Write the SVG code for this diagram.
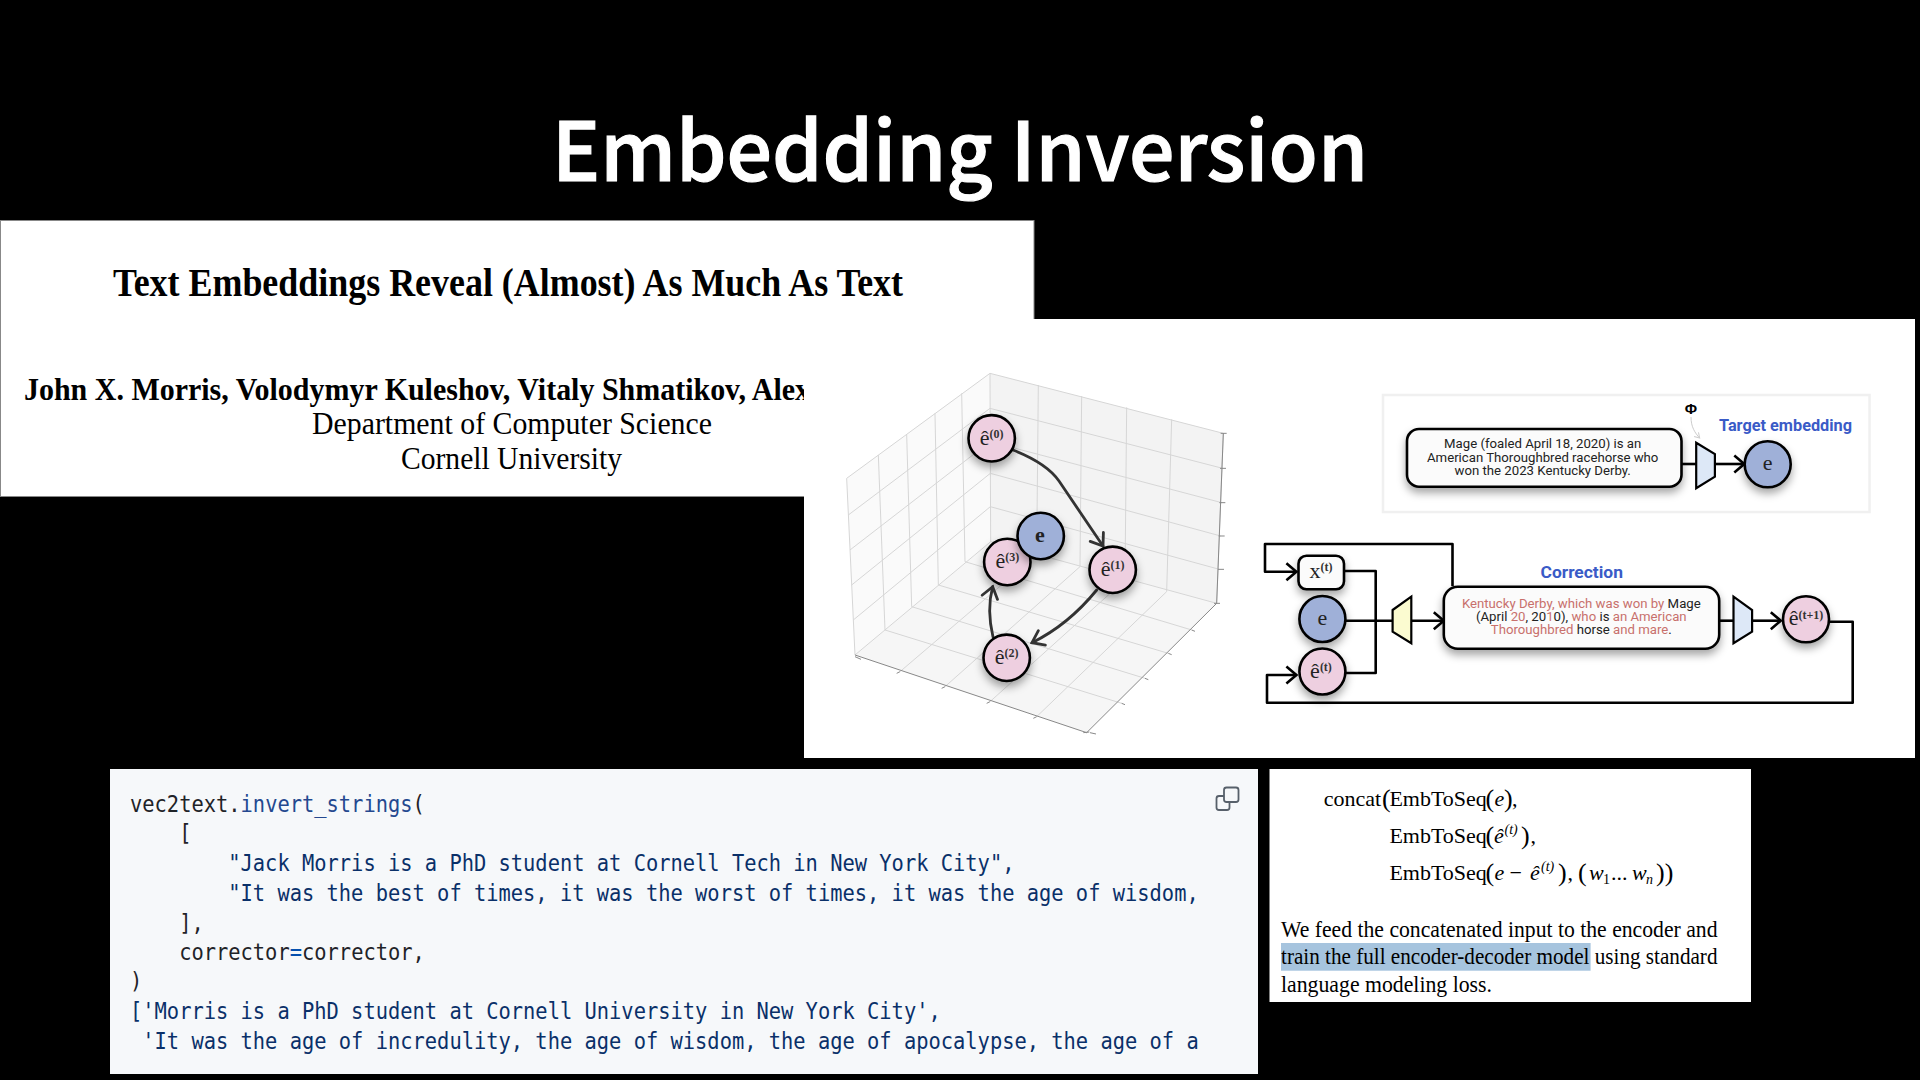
<svg xmlns="http://www.w3.org/2000/svg" width="1920" height="1080" viewBox="0 0 1920 1080">
<style>
.ser{font-family:"Liberation Serif","Times New Roman",serif;fill:#000}
.b{font-weight:700}
.code{font-family:"DejaVu Sans Mono","Liberation Mono",monospace;font-size:22.5px;fill:#1f2328;white-space:pre}
.str{fill:#0a3069}.fn{fill:#24488f}.op{fill:#0550ae}
.rob{font-family:Roboto,"Liberation Sans",sans-serif;font-size:13.2px;fill:#222;text-anchor:middle}
.red{fill:#c8706c}
.hd{font-family:Roboto,"Liberation Sans",sans-serif;font-weight:700;font-size:17px;fill:#3a5bc7}
.nl{font-family:"Liberation Serif",serif;fill:#222;text-anchor:middle;font-size:22px}
.sp{font-size:12px;font-weight:700;fill:#333}
.node{stroke:#000;stroke-width:2.6;filter:url(#sh)}
.pk{fill:#eecfe0}.bl{fill:#9fb0d8}
.box{fill:#fbfbfb;stroke:#000;stroke-width:2.6;filter:url(#sh)}
.trap{stroke:#000;stroke-width:2.2}
.w{fill:none;stroke:#000;stroke-width:2.6;stroke-linejoin:round}
.cv{fill:none;stroke:#333;stroke-width:2.8;stroke-linecap:round}
.grid{fill:none;stroke:#d6d6d6;stroke-width:3}
.tick{fill:none;stroke:#888;stroke-width:3}
.math{font-size:22px}
.it{font-style:italic}
.sup{font-size:14px;font-style:italic}
.par{font-size:26px}
</style>
<defs>
<filter id="sh" x="-40%" y="-40%" width="180%" height="200%"><feDropShadow dx="0" dy="5" stdDeviation="4" flood-color="#000" flood-opacity="0.35"/></filter>
<marker id="ah" markerUnits="userSpaceOnUse" markerWidth="24" markerHeight="24" refX="14" refY="12" orient="auto"><path d="M4,3.500 L14,12 L4,20.500" fill="none" stroke="#000" stroke-width="2.600"/></marker>
<marker id="ac" markerUnits="userSpaceOnUse" markerWidth="26" markerHeight="26" refX="15" refY="13" orient="auto"><path d="M4,5 L15,13 L4,21" fill="none" stroke="#333" stroke-width="2.800" stroke-linecap="round"/></marker>
<marker id="ag" markerUnits="userSpaceOnUse" markerWidth="10" markerHeight="10" refX="7" refY="5" orient="auto"><path d="M2,2 L7,5 L2,8" fill="none" stroke="#ccc" stroke-width="1"/></marker>
</defs>
<rect width="1920" height="1080" fill="#000"/>
<text id="title" x="960" y="181" text-anchor="middle" font-family="'Noto Sans CJK JP','Noto Sans',sans-serif" font-weight="500" font-size="82" fill="#fff" stroke="#fff" stroke-width="1.2" textLength="816" lengthAdjust="spacingAndGlyphs">Embedding Inversion</text>

<g id="paper-title">
<rect x="0.500" y="220.500" width="1033.500" height="276" fill="#fff" stroke="#888" stroke-width="1"/>
<text class="ser b" x="113" y="296" font-size="39" textLength="790" lengthAdjust="spacingAndGlyphs">Text Embeddings Reveal (Almost) As Much As Text</text>
<text class="ser b" x="24" y="399.500" font-size="32" textLength="786" lengthAdjust="spacingAndGlyphs">John X. Morris, Volodymyr Kuleshov, Vitaly Shmatikov, Alex</text>
<text class="ser" x="312" y="434" font-size="32" textLength="400" lengthAdjust="spacingAndGlyphs">Department of Computer Science</text>
<text class="ser" x="401" y="469" font-size="32" textLength="221" lengthAdjust="spacingAndGlyphs">Cornell University</text>
</g>

<rect id="figure-panel" x="804" y="319" width="1111" height="439" fill="#fff"/>
<g id="plot3d" transform="translate(800 320) scale(0.33333)">
<path d="M140,475 L570,160 L572,665 L165,1005Z" fill="#fafafa"/>
<path d="M570,160 L1270,340 L1250,850 L572,665Z" fill="#f3f3f3"/>
<path d="M165,1005 L572,665 L1250,850 L860,1238Z" fill="#f6f6f6"/>
<path class="grid" d="M140,475 L570,160 L1270,340 M570,160 L572,665 M140,475 L165,1005 M1270,340 L1250,850
M235,405 L255,930 M320,343 L335,860 M405,280 L415,795 M485,220 L495,725
M715,195 L710,705 M845,228 L840,740 M980,262 L975,780 M1115,298 L1100,815
M145,585 L570,265 M150,690 L570,365 M155,795 L571,460 M160,900 L571,560
M570,265 L1268,445 M570,365 L1265,548 M571,460 L1262,648 M571,560 L1258,748
M165,1005 L572,665 L1250,850 M710,705 L300,1055 M840,740 L435,1100 M975,780 L570,1145 M1100,815 L710,1190
M495,725 L1175,930 M415,795 L1105,1000 M335,860 L1035,1075 M255,930 L965,1150"/>
<path class="tick" d="M165,1005 L860,1238 L1250,850 L1270,340 M1262,340h18 M1260,445h18 M1258,548h18 M1256,648h18 M1254,748h18 M1242,850h18
M165,1010l18,8 M300,1055l-10,5 M435,1100l-10,5 M570,1145l-10,5 M710,1190l-10,5 M850,1238l18,-2 M1175,930l10,4 M1105,1000l10,4 M1035,1075l10,4 M965,1150l10,4 M870,1238l18,4"/>
</g>

<g id="target-box"><rect x="1383" y="395" width="486.500" height="117" fill="#fff" stroke="#f0f0f0" stroke-width="2.500"/></g>
<text id="phi" x="1691" y="414" font-family="'Liberation Sans',sans-serif" font-weight="700" font-size="15" text-anchor="middle" fill="#000">Φ</text>
<text id="target-label" class="hd" x="1719" y="430.700" textLength="133" lengthAdjust="spacingAndGlyphs">Target embedding</text>
<text id="correction-label" class="hd" x="1540.500" y="577.700" textLength="82.500" lengthAdjust="spacingAndGlyphs">Correction</text>

<g id="connectors">
<path class="cv" marker-end="url(#ac)" d="M1013 450 C1036 459 1050 468 1059 481 C1072 500 1088 524 1103 546"/>
<path class="cv" marker-end="url(#ac)" d="M1096.700 590 C1082 608 1062 628 1032 642.700"/>
<path class="cv" marker-end="url(#ac)" d="M993 637 C989 620 988 604 992.700 586.700"/>
<path d="M1691 417 C1691 427 1695 433 1699.700 438" fill="none" stroke="#ccc" stroke-width="1" marker-end="url(#ag)"/>
<path class="w" d="M1681.500 464H1696.200"/>
<path class="w" marker-end="url(#ah)" d="M1715 464H1744.300"/>
<path class="w" marker-end="url(#ah)" d="M1452.500 586V544H1265V571.700H1296.400"/>
<path class="w" d="M1344 571H1375.700V673H1346"/>
<path class="w" d="M1345 620.700H1392.600"/>
<path class="w" marker-end="url(#ah)" d="M1411.300 620.700H1443.800"/>
<path class="w" d="M1719.200 620.700H1733.500"/>
<path class="w" marker-end="url(#ah)" d="M1752.100 620.700H1780.800"/>
<path class="w" marker-end="url(#ah)" d="M1829 621.700H1852.700V702.700H1267V675H1296.400"/>
</g>

<g id="n-e0"><circle class="node pk" cx="991.700" cy="438.300" r="23.200"/><text class="nl" x="991.700" y="444.500">ê<tspan class="sp" dy="-7">(0)</tspan></text></g>
<g id="n-e1"><circle class="node pk" cx="1112.700" cy="569.800" r="23.200"/><text class="nl" x="1112.700" y="576">ê<tspan class="sp" dy="-7">(1)</tspan></text></g>
<g id="n-e2"><circle class="node pk" cx="1006.700" cy="657.800" r="23.200"/><text class="nl" x="1006.700" y="664">ê<tspan class="sp" dy="-7">(2)</tspan></text></g>
<g id="n-e3"><circle class="node pk" cx="1007.300" cy="562" r="23.200"/><text class="nl" x="1007.300" y="568">ê<tspan class="sp" dy="-7">(3)</tspan></text></g>
<g id="n-e"><circle class="node bl" cx="1040.700" cy="536" r="23.200"/><text class="nl b" x="1040" y="541.500" font-size="25">e</text></g>

<g id="sentence"><rect class="box" x="1407" y="429" width="274.500" height="57.700" rx="12"/>
<text class="rob" x="1542.700" y="448.300">Mage (foaled April 18, 2020) is an</text>
<text class="rob" x="1542.700" y="461.700">American Thoroughbred racehorse who</text>
<text class="rob" x="1542.700" y="474.700">won the 2023 Kentucky Derby.</text></g>
<g id="encoder-target"><path class="trap" fill="#dde8f7" d="M1696.200 442.700L1714.900 454V476.700L1696.200 488.300Z"/></g>
<g id="n-target-e"><circle class="node bl" cx="1767.700" cy="464.300" r="23"/><text class="nl" x="1767.700" y="470" font-size="25">e</text></g>

<g id="n-x"><rect class="box" x="1298.500" y="555.700" width="45.500" height="33.600" rx="8"/><text class="nl" x="1321" y="578" font-size="22">x<tspan class="sp" dy="-7">(t)</tspan></text></g>
<g id="n-e-in"><circle class="node bl" cx="1322.400" cy="619" r="23"/><text class="nl" x="1322.400" y="625" font-size="25">e</text></g>
<g id="n-et"><circle class="node pk" cx="1322.400" cy="671.500" r="23"/><text class="nl" x="1321" y="677.500">ê<tspan class="sp" dy="-7">(t)</tspan></text></g>
<g id="decoder"><path class="trap" fill="#fbfbd0" d="M1392.600 610L1411.300 596.700V643.300L1392.600 631.700Z"/></g>
<g id="correction"><rect class="box" x="1443.800" y="586.700" width="275.400" height="62" rx="14"/>
<text class="rob" x="1581.300" y="608.300"><tspan class="red">Kentucky Derby, which was won by</tspan> Mage</text>
<text class="rob" x="1581.300" y="621.300">(April <tspan class="red">20</tspan>, 20<tspan class="red">1</tspan>0), <tspan class="red">who</tspan> is <tspan class="red">an American</tspan></text>
<text class="rob" x="1581.300" y="634.300"><tspan class="red">Thoroughbred</tspan> horse <tspan class="red">and mare</tspan>.</text></g>
<g id="encoder"><path class="trap" fill="#dde8f7" d="M1733.500 596.700L1752.100 610V631.700L1733.500 643.300Z"/></g>
<g id="n-et1"><circle class="node pk" cx="1806" cy="619.300" r="23"/><text class="nl" x="1806" y="625" font-size="19">ê<tspan class="sp" font-size="10.500" dy="-6">(t+1)</tspan></text></g>

<g id="code">
<rect x="110" y="769" width="1148" height="305" fill="#f6f8fa"/>
<g transform="translate(130 0) scale(0.9075 1)">
<text class="code" x="0" y="812.200">vec2text.<tspan class="fn">invert_strings</tspan>(</text>
<text class="code" x="0" y="841.500">    [</text>
<text class="code str" x="0" y="871">        "Jack Morris is a PhD student at Cornell Tech in New York City",</text>
<text class="code str" x="0" y="901">        "It was the best of times, it was the worst of times, it was the age of wisdom,</text>
<text class="code" x="0" y="931">    ],</text>
<text class="code" x="0" y="960">    corrector<tspan class="op">=</tspan>corrector,</text>
<text class="code" x="0" y="989">)</text>
<text class="code str" x="0" y="1019">['Morris is a PhD student at Cornell University in New York City',</text>
<text class="code str" x="0" y="1049"> 'It was the age of incredulity, the age of wisdom, the age of apocalypse, the age of a</text>
</g>
<g fill="none" stroke="#57606a" stroke-width="1.800" stroke-linejoin="round"><path d="M1224 796h-5a2.500 2.500 0 0 0-2.500 2.500v9a2.500 2.500 0 0 0 2.500 2.500h8a2.500 2.500 0 0 0 2.500-2.500v-5"/><rect x="1224" y="787.500" width="14.500" height="14.500" rx="2.500"/></g>
</g>

<g id="method">
<rect x="1269.500" y="769" width="481.500" height="233" fill="#fff"/>
<rect x="1281" y="943" width="309.600" height="27.700" fill="#a6c4de"/>
<text class="ser math" y="805.700"><tspan x="1323.700">concat</tspan><tspan class="par" x="1382" dy="1">(</tspan><tspan x="1389.400" dy="-1">EmbToSeq</tspan><tspan class="par" x="1485.500" dy="1">(</tspan><tspan class="it" x="1494.400" dy="-1">e</tspan><tspan class="par" x="1504" dy="1">)</tspan><tspan x="1512" dy="-1">,</tspan></text>
<text class="ser math" y="842.700"><tspan x="1389.400">EmbToSeq</tspan><tspan class="par" x="1485.500" dy="1">(</tspan><tspan class="it" x="1494" dy="-1">ê</tspan><tspan class="sup" x="1504.500" dy="-9">(t)</tspan><tspan class="par" x="1521" dy="10">)</tspan><tspan x="1530.500" dy="-1">,</tspan></text>
<text class="ser math" y="880"><tspan x="1389.400">EmbToSeq</tspan><tspan class="par" x="1485.500" dy="1">(</tspan><tspan class="it" x="1494.400" dy="-1">e</tspan><tspan x="1509.500">−</tspan><tspan class="it" x="1530">ê</tspan><tspan class="sup" x="1541" dy="-9">(t)</tspan><tspan class="par" x="1558" dy="10">)</tspan><tspan x="1567.500" dy="-1">,</tspan><tspan class="par" x="1578" dy="1">(</tspan><tspan class="it" x="1589" dy="-1">w</tspan><tspan font-size="14" x="1603" dy="4">1</tspan><tspan x="1611" dy="-4">...</tspan><tspan class="it" x="1632">w</tspan><tspan class="sup" x="1646" dy="4">n</tspan><tspan class="par" x="1656" dy="-3">))</tspan></text>
<text class="ser" x="1281" y="936.500" font-size="22.500" textLength="436.500" lengthAdjust="spacingAndGlyphs">We feed the concatenated input to the encoder and</text>
<text class="ser" x="1281" y="963.500" font-size="22.500" textLength="436.500" lengthAdjust="spacingAndGlyphs">train the full encoder-decoder model using standard</text>
<text class="ser" x="1281" y="991.500" font-size="22.500" textLength="211" lengthAdjust="spacingAndGlyphs">language modeling loss.</text>
</g>
</svg>
